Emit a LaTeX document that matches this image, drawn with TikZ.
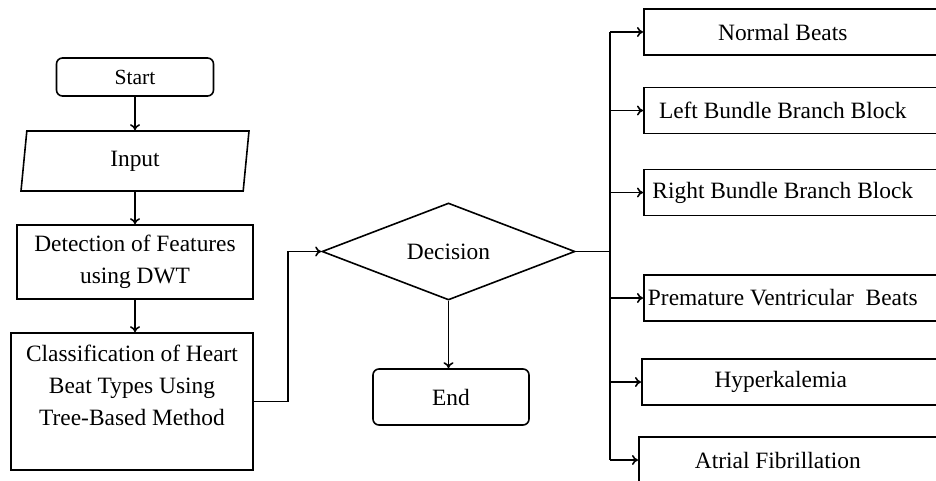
\documentclass[tikz,border=0pt]{standalone}
\usepackage{fontspec}
\setmainfont{Liberation Serif}
\usetikzlibrary{shapes.geometric, arrows.meta}
\newcommand{\beatlabel}[1]{\makebox[170pt][l]{\makebox[139pt]{#1}}}
\tikzset{
  base/.style={draw, line width=0.8pt, inner sep=0pt, align=center},
  terminal/.style={base, rounded corners=3pt, minimum width=78.5pt, minimum height=19pt},
  io/.style={base, trapezium, trapezium left angle=74, trapezium right angle=106,
    trapezium stretches body, minimum width=114pt, minimum height=30pt},
  process/.style={base, rectangle},
  choice/.style={base, diamond, aspect=2.6, minimum width=126.5pt, minimum height=48.5pt},
  beat/.style={base, rectangle, anchor=west, minimum height=23pt},
}
\begin{document}
\begin{tikzpicture}[x=0.5pt, y=-0.5pt, line width=0.8pt, >={To[length=3pt,width=5pt]}, font=\fontsize{11.7}{16}\selectfont]
  \useasboundingbox (0,0) rectangle (936,481);
  \clip (0,0) rectangle (936,481);
  % left column
  \node[terminal, font=\fontsize{10.8}{13}\selectfont] (start) at (135,77) {Start};
  \node[io] (input) at (135,161) {Input};
  \node[process, minimum width=118pt, minimum height=37pt] (detect) at (135,262) {Detection of Features\\using DWT};
  \node[process, minimum width=121pt, minimum height=68.5pt] (classify) at (132,401.5) {Classification of Heart\\Beat Types Using\\Tree-Based Method\\~};
  % middle
  \node[choice] (decide) at (448.5,251.5) {Decision};
  \node[terminal, minimum width=78pt, minimum height=28pt] (end) at (451,397) {End};
  % beat types
  \node[beat] (normal) at (643,32) {\beatlabel{Normal Beats}};
  \node[beat] (lbbb) at (643,110.5) {\beatlabel{Left Bundle Branch Block}};
  \node[beat] (rbbb) at (643,192.5) {\beatlabel{Right Bundle Branch Block}};
  \node[beat] (pvc) at (643,298) {\beatlabel{Premature Ventricular\ \ Beats}};
  \node[beat] (hyper) at (641,382) {\beatlabel{Hyperkalemia}};
  \node[beat] (afib) at (638,460) {\beatlabel{Atrial Fibrillation}};
  \coordinate (bus) at (610,251.5);
  % connectors
  \draw[->] (start.south) -- (start.south |- input.north);
  \draw[->] (input.south) -- (input.south |- detect.north);
  \draw[->] (detect.south) -- (detect.south |- classify.north);
  \draw[->] (classify.east) -- ++(34,0) |- (decide.west);
  \draw[->] (decide.south) -- (decide.south |- end.north);
  \draw (decide.east) -- (bus);
  \draw (bus |- normal.west) -- (bus |- afib.west);
  \foreach \b in {normal,lbbb,rbbb,pvc,hyper,afib}
    \draw[->] (bus |- \b.west) -- (\b.west);
\end{tikzpicture}
\end{document}
